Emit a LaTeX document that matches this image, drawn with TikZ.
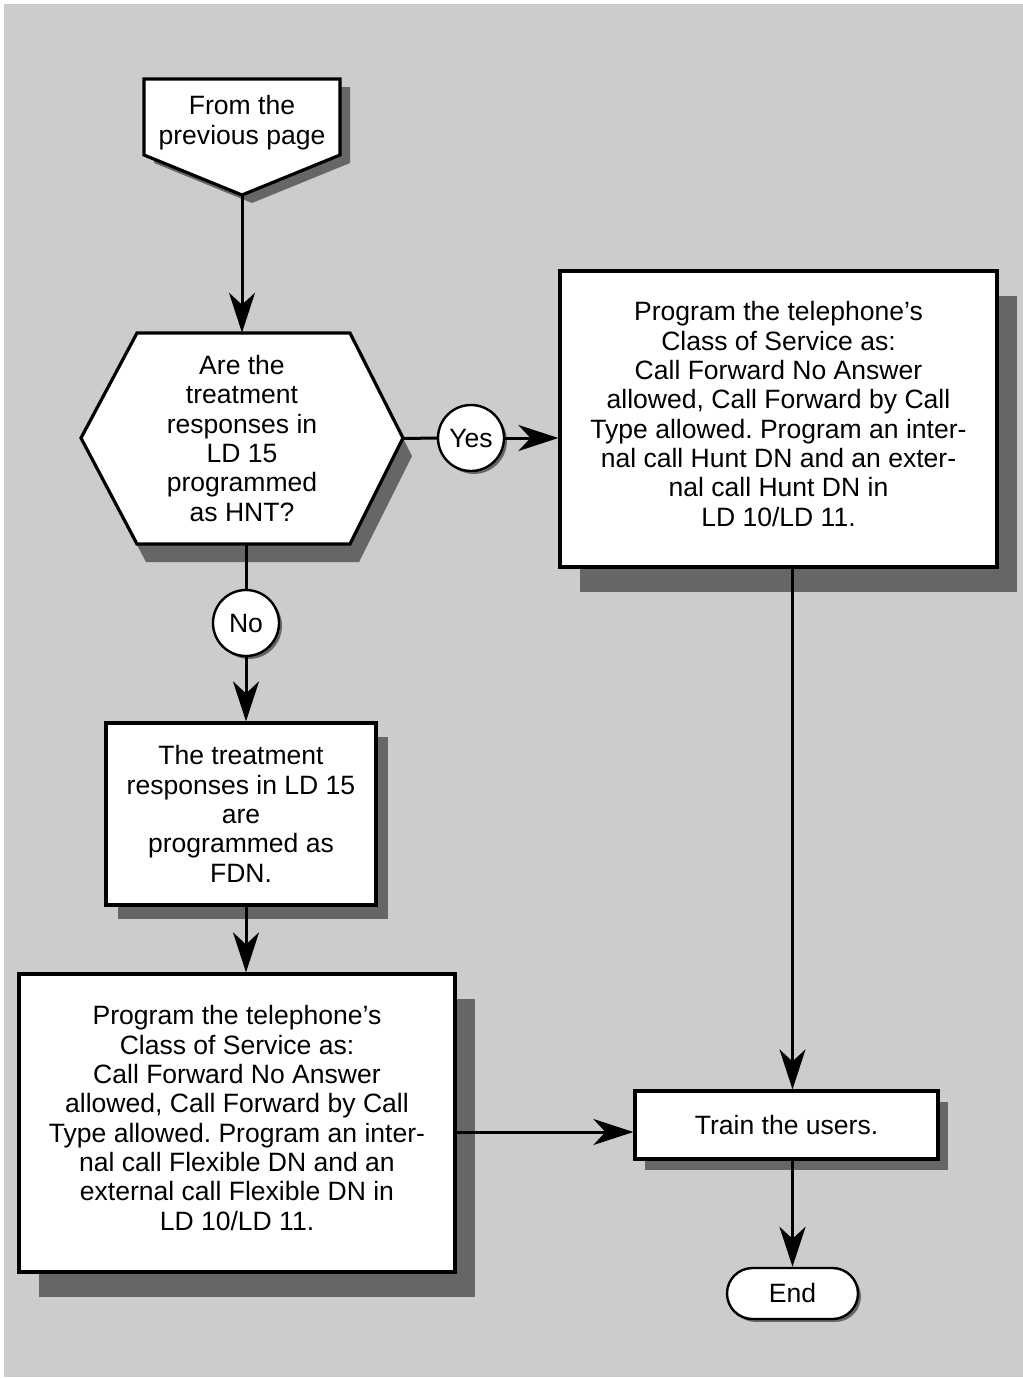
\documentclass[tikz,border=0pt]{standalone}
\usepackage{fontspec}
\setmainfont{Liberation Sans}
\usetikzlibrary{arrows.meta,shapes.misc,shadows}
\definecolor{bggray}{HTML}{CCCCCC}
\definecolor{shgray}{HTML}{666666}
\frenchspacing
\begin{document}
\begin{tikzpicture}[x=0.75pt,y=-0.75pt,
  every node/.style={font=\fontsize{19.9}{22}\selectfont, align=center, inner sep=0pt},
  box/.style={draw=black, fill=white, line width=2.4pt, rectangle},
  small/.style={draw=black, fill=white, line width=1.8pt},
  shA/.style={general shadow={fill=shgray, shadow xshift=15pt, shadow yshift=-18.75pt}},
  shB/.style={general shadow={fill=shgray, shadow xshift=9pt, shadow yshift=-10.5pt}},
  shC/.style={general shadow={fill=shgray, shadow xshift=7.5pt, shadow yshift=-8.25pt}},
  shS/.style={general shadow={fill=shgray, shadow xshift=2.2pt, shadow yshift=-2.2pt}},
  ln/.style={line width=2.25pt},
  arr/.style={line width=2.25pt, -{Stealth[length=30pt,width=19.5pt,inset=9pt]}}
]
\useasboundingbox (0,0) rectangle (1023,1378);
\fill[bggray] (4,4) rectangle (1023,1377);

% pentagon (off-page connector)
\fill[shgray, shift={(10,8)}] (144,79) -- (340,79) -- (340,155) -- (242,195) -- (144,155) -- cycle;
\draw[line width=2.4pt, fill=white, line join=miter] (144,79) -- (340,79) -- (340,155) -- (242,195) -- (144,155) -- cycle;
\node (P) at (242,122.5) {From the\\previous page};
\coordinate (Ptip) at (242,195);

% hexagon (decision)
\fill[shgray, shift={(9,18)}] (81,438) -- (137,333) -- (350,333) -- (403,438) -- (350,544) -- (137,544) -- cycle;
\draw[line width=2.4pt, fill=white, line join=miter] (81,438) -- (137,333) -- (350,333) -- (403,438) -- (350,544) -- (137,544) -- cycle;
\node[minimum width=322*0.75pt, minimum height=211*0.75pt] (H) at (242,438.5)
  {Are the\\treatment\\responses in\\LD 15\\programmed\\as HNT?};

% boxes
\node[box, shA, minimum width=437*0.75pt, minimum height=296*0.75pt] (R) at (778.5,419) {};
\node (Rtext) at (778.5,414)
  {Program the telephone’s\\Class of Service as:\\Call Forward No Answer\\allowed, Call Forward by Call\\Type allowed. Program an inter-\\nal call Hunt DN and an exter-\\nal call Hunt DN in\\LD 10/LD 11.};
\node[box, shB, minimum width=270*0.75pt, minimum height=182*0.75pt] (M) at (241,814)
  {The treatment\\responses in LD 15\\are\\programmed as\\FDN.};
\node[box, shA, minimum width=436*0.75pt, minimum height=298*0.75pt] (L) at (237,1123) {};
\node (Ltext) at (237,1118)
  {Program the telephone’s\\Class of Service as:\\Call Forward No Answer\\allowed, Call Forward by Call\\Type allowed. Program an inter-\\nal call Flexible DN and an\\external call Flexible DN in\\LD 10/LD 11.};
\node[box, shC, minimum width=303*0.75pt, minimum height=68*0.75pt] (T) at (786.5,1125) {Train the users.};
\node[small, shS, rounded rectangle, minimum width=131*0.75pt, minimum height=51*0.75pt] (E) at (792.5,1293.5) {End};

% yes / no circles
\node[small, shS, circle, minimum size=66*0.75pt] (Y) at (471,438) {Yes};
\node[small, shS, circle, minimum size=66*0.75pt] (N) at (246,623) {No};

% connectors
\draw[arr] (Ptip) -- (H.north);
\draw[ln] (H.east) -- (Y.west);
\draw[arr] (Y.east) -- (R.west |- Y.east);
\draw[ln] (H.south -| N.north) -- (N.north);
\draw[arr] (N.south) -- (N.south |- M.north);
\draw[arr] (N.south |- M.south) -- (N.south |- L.north);
\coordinate (Tin) at ([yshift=-5.25pt]T.west);
\draw[arr] (L.east |- Tin) -- (Tin);
\draw[arr] (E.north |- R.south) -- (E.north |- T.north);
\draw[arr] (E.north |- T.south) -- (E.north);
\end{tikzpicture}
\end{document}
